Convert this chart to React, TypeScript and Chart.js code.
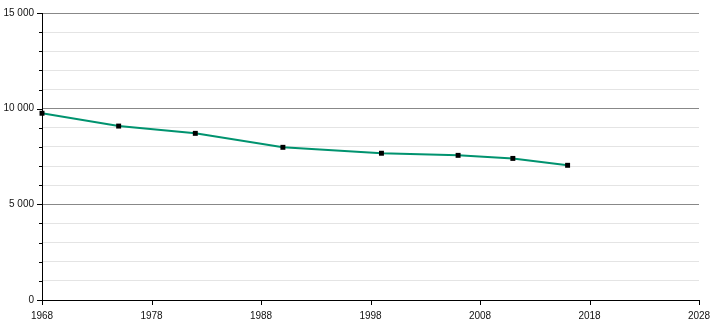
import React, { useEffect, useRef } from "react";
import { Chart, registerables } from "chart.js";

Chart.register(...registerables);

const years = [1968, 1975, 1982, 1990, 1999, 2006, 2011, 2016];
const population = [9760, 9090, 8710, 7980, 7670, 7560, 7400, 7040];
const xTicks = [1968, 1978, 1988, 1998, 2008, 2018, 2028];
const yMin = 0;
const yMax = 15000;
const yMajorStep = 5000;
const yMinorStep = 1000;

const fmt = (v: number) => String(v).replace(/\B(?=(\d{3})+(?!\d))/g, " ");

const tickPlugin = {
  id: "customTicks",
  afterDraw(chart: any) {
    const ctx = chart.ctx;
    const ys = chart.scales.y;
    const xs = chart.scales.x;
    ctx.save();
    ctx.strokeStyle = "#000";
    ctx.lineWidth = 1;
    ctx.beginPath();
    for (let v = yMin; v <= yMax; v += yMinorStep) {
      const py = Math.round(ys.getPixelForValue(v)) + 0.5;
      const len = v % yMajorStep === 0 ? 5 : 3;
      ctx.moveTo(ys.right - len, py);
      ctx.lineTo(ys.right, py);
    }
    for (const t of xTicks) {
      const px = Math.round(xs.getPixelForValue(t)) + 0.5;
      ctx.moveTo(px, xs.top);
      ctx.lineTo(px, xs.top + 5);
    }
    ctx.stroke();
    ctx.restore();
  },
};

export default function App() {
  const ref = useRef<HTMLCanvasElement | null>(null);
  useEffect(() => {
    if (!ref.current) return;
    const chart = new Chart(ref.current, {
      type: "line",
      data: {
        datasets: [
          {
            data: years.map((y, i) => ({ x: y, y: population[i] })),
            borderColor: "#00936F",
            borderWidth: 2,
            pointStyle: "rect",
            pointRadius: 3.5,
            pointBackgroundColor: "#000",
            pointBorderWidth: 0,
            tension: 0,
            clip: false as any,
          },
        ],
      },
      options: {
        animation: false,
        responsive: false,
        layout: { padding: { top: 13, right: 11, left: 0, bottom: 0 } },
        plugins: { legend: { display: false }, tooltip: { enabled: false } },
        scales: {
          x: {
            type: "linear",
            min: xTicks[0],
            max: xTicks[xTicks.length - 1],
            afterBuildTicks: (s: any) => {
              s.ticks = xTicks.map((v) => ({ value: v }));
            },
            afterFit: (s: any) => {
              s.height = 20;
              s.paddingLeft = 0;
              s.paddingRight = 0;
            },
            grid: { display: false, drawTicks: false },
            border: { display: true, color: "#000", width: 1 },
            ticks: {
              padding: 10,
              maxRotation: 0,
              autoSkip: false,
              color: "#111",
              font: { family: "'Liberation Sans', Arial, sans-serif", size: 10 },
              callback: (v: any) => String(v),
            },
          },
          y: {
            type: "linear",
            min: yMin,
            max: yMax,
            afterFit: (s: any) => {
              s.width = 42;
              s.paddingTop = 0;
              s.paddingBottom = 0;
            },
            ticks: {
              stepSize: yMinorStep,
              autoSkip: false,
              padding: 8,
              color: "#111",
              font: { family: "'Liberation Sans', Arial, sans-serif", size: 10 },
              callback: (v: any) => (Number(v) % yMajorStep === 0 ? fmt(Number(v)) : ""),
            },
            grid: {
              drawTicks: false,
              color: (c: any) =>
                c.tick && c.tick.value % yMajorStep === 0 ? "#888" : "#e4e4e4",
              lineWidth: 1,
            },
            border: { display: true, color: "#000", width: 1 },
          },
        },
      },
      plugins: [tickPlugin],
    });
    return () => chart.destroy();
  }, []);
  return (
    <div style={{ position: "fixed", left: 0, top: 0, width: 710, height: 320, background: "#fff" }}>
      <canvas ref={ref} width={710} height={320} style={{ display: "block" }} />
    </div>
  );
}
